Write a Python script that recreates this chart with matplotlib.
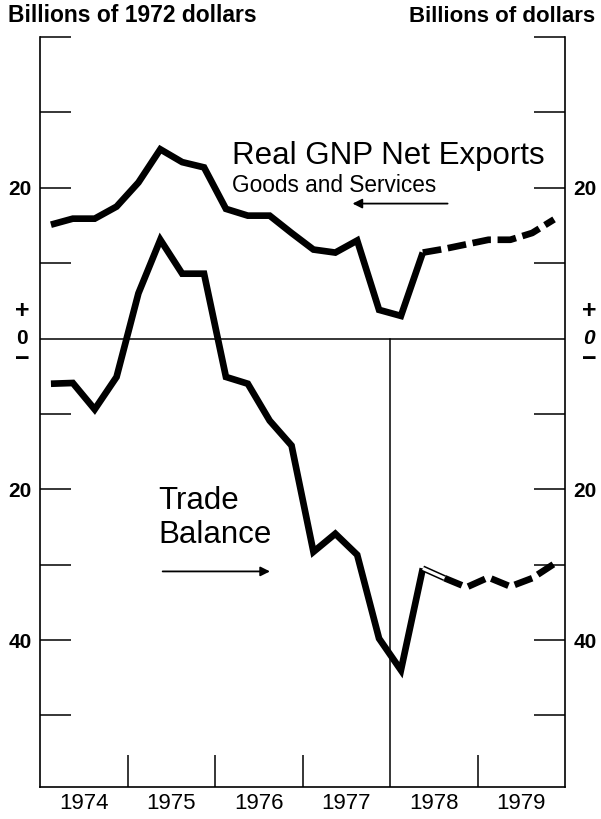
import numpy as np
import matplotlib
matplotlib.use("Agg")
import matplotlib.pyplot as plt

plt.rcParams['font.family'] = ['Liberation Sans', 'DejaVu Sans']

# quarterly data, 1974Q1 .. 1979Q4 (billions)
quarters = np.arange(24)
years = [1974, 1975, 1976, 1977, 1978, 1979]
gnp_net_exports = [15.1, 15.9, 15.9, 17.5, 20.7, 25.1, 23.4, 22.7,
                   17.2, 16.3, 16.3, 14.0, 11.8, 11.4, 13.0, 3.8,
                   3.0, 11.4, 11.9, 12.5, 13.1, 13.1, 14.0, 15.8]
trade_balance = [-6.0, -5.9, -9.4, -5.1, 6.0, 13.1, 8.6, 8.6,
                 -5.1, -6.0, -10.9, -14.2, -28.3, -25.9, -28.7, -39.8,
                 -44.0, -30.5, -31.8, -33.0, -31.7, -32.9, -31.8, -29.9]
last_actual = 17      # index of last actual quarter (1978Q2)
ytick_vals = [-50, -40, -30, -20, -10, 10, 20, 30, 40]
ytick_text = {20: '20', -20: '20', -40: '40'}

x = 1974 + (quarters + 0.5) / 4
gnp = np.array(gnp_net_exports)
tb = np.array(trade_balance)
k = last_actual

fig = plt.figure(figsize=(6.01, 8.19), dpi=100)
ax = fig.add_axes([40 / 601, 1 - 787 / 819, 525 / 601, 750 / 819])
ax.set_xlim(1974, 1980)
ax.set_ylim(-59.5, 40)

lw = 4.8
# real GNP net exports: actual solid, projection dashed
ax.plot(x[:k + 1], gnp[:k + 1], color='black', lw=lw, solid_joinstyle='miter',
        solid_capstyle='butt')
ax.plot(x[k:], gnp[k:], color='black', lw=lw, dashes=(2.8, 1.0),
        dash_capstyle='butt')

# trade balance
ax.plot(x[:k + 1], tb[:k + 1], color='black', lw=lw, solid_joinstyle='miter',
        solid_capstyle='butt')
ax.plot(x[k:k + 2], tb[k:k + 2], color='black', lw=4.4, solid_capstyle='butt')
ax.plot(x[k:k + 2], tb[k:k + 2], color='white', lw=2.2, solid_capstyle='butt')
ax.plot(x[k + 1:], tb[k + 1:], color='black', lw=lw, dashes=(2.8, 1.0),
        dash_capstyle='butt')

# zero line and 1978 divider
ax.axhline(0, color='black', lw=1.1)
ax.plot([1978, 1978], [-59.5, 0], color='black', lw=1.1)

for side in ['left', 'right', 'bottom']:
    ax.spines[side].set_linewidth(1.2)
ax.spines['top'].set_visible(False)

# y ticks
ax.set_yticks(ytick_vals)
ax.set_yticklabels([ytick_text.get(v, '') for v in ytick_vals],
                   fontsize=15, fontweight='bold')
ax.tick_params(axis='y', direction='in', length=22, width=1.1,
               left=True, right=True, labelleft=True, labelright=True, pad=6)

# +0- markers on both sides
tr = ax.get_yaxis_transform()
for xa, style in [(-0.034, 'normal'), (1.046, 'italic')]:
    ax.text(xa, 3.6, '+', transform=tr, ha='center', va='center',
            fontsize=18, fontweight='bold')
    ax.text(xa, 0.0, '0', transform=tr, ha='center', va='center',
            fontsize=15, fontweight='bold', fontstyle=style)
    ax.text(xa, -2.7, '\u2212', transform=tr, ha='center', va='center',
            fontsize=18, fontweight='bold')

# x ticks: boundaries inward, year labels in middle
ax.set_xticks([1975, 1976, 1977, 1979])
ax.set_xticklabels([])
ax.tick_params(axis='x', which='major', direction='in', length=23, width=1.1)
ax.set_xticks([y + 0.5 for y in years], minor=True)
ax.set_xticklabels([str(y) for y in years], minor=True, fontsize=16)
ax.tick_params(axis='x', which='minor', length=0, pad=4)

# annotations
ax.text(1976.19, 24.2, 'Real GNP Net Exports', fontsize=22.5, ha='left',
        va='center')
ax.text(1976.2, 20.3, 'Goods and Services', fontsize=16.3, ha='left',
        va='center')
ax.annotate('', xy=(1977.54, 17.9), xytext=(1978.69, 17.9),
            arrowprops=dict(arrowstyle='-|>', color='black', lw=1.3,
                            mutation_scale=14))
ax.text(1975.35, -21.5, 'Trade', fontsize=22.5, ha='left', va='center')
ax.text(1975.35, -26.1, 'Balance', fontsize=22.5, ha='left', va='center')
ax.annotate('', xy=(1976.66, -30.9), xytext=(1975.37, -30.9),
            arrowprops=dict(arrowstyle='-|>', color='black', lw=1.3,
                            mutation_scale=14))

fig.text(8 / 601, 1 - 16 / 819, 'Billions of 1972 dollars', fontsize=16.5,
         fontweight='bold', ha='left', va='center')
fig.text(595 / 601, 1 - 16 / 819, 'Billions of dollars', fontsize=16,
         fontweight='bold', ha='right', va='center')

fig.savefig('out.png', dpi=100)
